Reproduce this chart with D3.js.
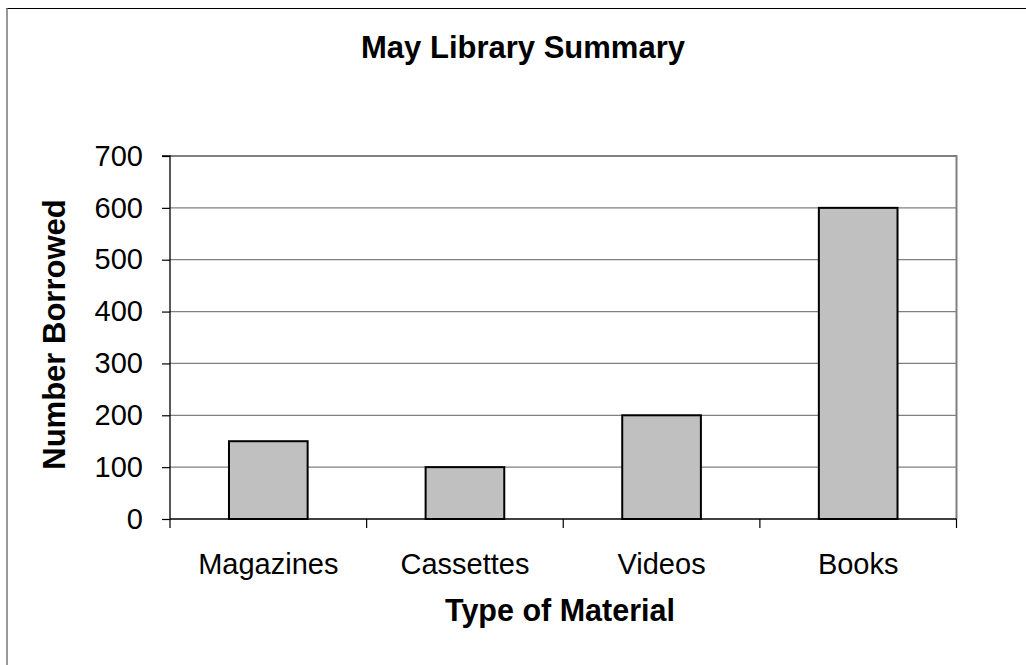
<!DOCTYPE html>
<html>
<head>
<meta charset="utf-8">
<script src="https://cdn.jsdelivr.net/npm/d3@7"></script>
<style>
  html, body { margin: 0; padding: 0; background: #fff; overflow: hidden; }
  svg { display: block; }
  text { font-family: "Liberation Sans", Arial, sans-serif; fill: #000; }
</style>
</head>
<body>
<svg id="chart" width="1026" height="665"></svg>
<script>
const categories = ["Magazines", "Cassettes", "Videos", "Books"];
const values = [150, 100, 200, 600];
const yTicks = [0, 100, 200, 300, 400, 500, 600, 700];
const chartTitle = "May Library Summary";
const xTitle = "Type of Material";
const yTitle = "Number Borrowed";

const svg = d3.select("#chart");
const plot = { left: 170, right: 956.5, top: 156, bottom: 519 };

// outer frame (only top and left edges fall inside the picture)
svg.append("line").attr("x1", 6).attr("x2", 1026).attr("y1", 8.5).attr("y2", 8.5)
  .attr("stroke", "#000").attr("stroke-width", 1.2);
svg.append("line").attr("x1", 7).attr("x2", 7).attr("y1", 8).attr("y2", 665)
  .attr("stroke", "#777").attr("stroke-width", 1.5);

const x = d3.scaleBand().domain(categories)
  .range([plot.left, plot.right]).paddingInner(0.6).paddingOuter(0.3);
const y = d3.scaleLinear().domain([0, 700]).range([plot.bottom, plot.top]);

// gridlines
svg.append("g").selectAll("line").data(yTicks.filter(d => d > 0)).join("line")
  .attr("x1", plot.left).attr("x2", plot.right)
  .attr("y1", d => y(d)).attr("y2", d => y(d))
  .attr("stroke", "#808080").attr("stroke-width", d => d === 700 ? 2 : 1.2);

// right border of plot area
svg.append("line")
  .attr("x1", plot.right).attr("x2", plot.right)
  .attr("y1", plot.top - 1).attr("y2", plot.bottom)
  .attr("stroke", "#808080").attr("stroke-width", 2);

// bars
svg.append("g").selectAll("rect").data(categories).join("rect")
  .attr("x", d => x(d))
  .attr("y", (d, i) => y(values[i]))
  .attr("width", x.bandwidth())
  .attr("height", (d, i) => y(0) - y(values[i]))
  .attr("fill", "#c0c0c0").attr("stroke", "#000").attr("stroke-width", 2);

// y axis
const yAxis = d3.axisLeft(y).tickValues(yTicks).tickSize(8).tickPadding(19)
  .tickFormat(d3.format("d"));
const gy = svg.append("g").attr("transform", `translate(${plot.left},0)`).call(yAxis);
gy.select(".domain").attr("stroke", "#000").attr("stroke-width", 1.3)
  .attr("d", `M-8,${plot.top}H0V${plot.bottom}`);
gy.selectAll(".tick line").attr("stroke", "#000").attr("stroke-width", 1.2);
gy.selectAll(".tick text").style("font-size", "29px")
  .style("font-family", '"Liberation Sans", Arial, sans-serif').attr("fill", "#000");

// x axis
const xAxis = d3.axisBottom(x).tickSize(0).tickPadding(34);
const gx = svg.append("g").attr("transform", `translate(0,${plot.bottom})`).call(xAxis);
gx.select(".domain").attr("stroke", "#000").attr("stroke-width", 1.3)
  .attr("d", `M${plot.left},0H${plot.right}`);
gx.selectAll(".tick text").style("font-size", "29px")
  .style("font-family", '"Liberation Sans", Arial, sans-serif').attr("fill", "#000");
// category boundary tick marks
const bounds = d3.range(categories.length + 1).map(i => plot.left + i * x.step());
gx.append("g").selectAll("line").data(bounds).join("line")
  .attr("x1", d => d).attr("x2", d => d)
  .attr("y1", 0).attr("y2", 9)
  .attr("stroke", "#000").attr("stroke-width", 1.2);

// titles
svg.append("text").attr("x", 523).attr("y", 58)
  .attr("text-anchor", "middle").style("font-size", "31px").style("font-weight", "bold")
  .text(chartTitle);

svg.append("text").attr("x", 560).attr("y", 621)
  .attr("text-anchor", "middle").style("font-size", "30.5px").style("font-weight", "bold")
  .text(xTitle);

svg.append("text")
  .attr("transform", `translate(65,${(plot.top + plot.bottom) / 2 - 3}) rotate(-90)`)
  .attr("text-anchor", "middle").style("font-size", "31px").style("font-weight", "bold")
  .text(yTitle);
</script>
</body>
</html>
